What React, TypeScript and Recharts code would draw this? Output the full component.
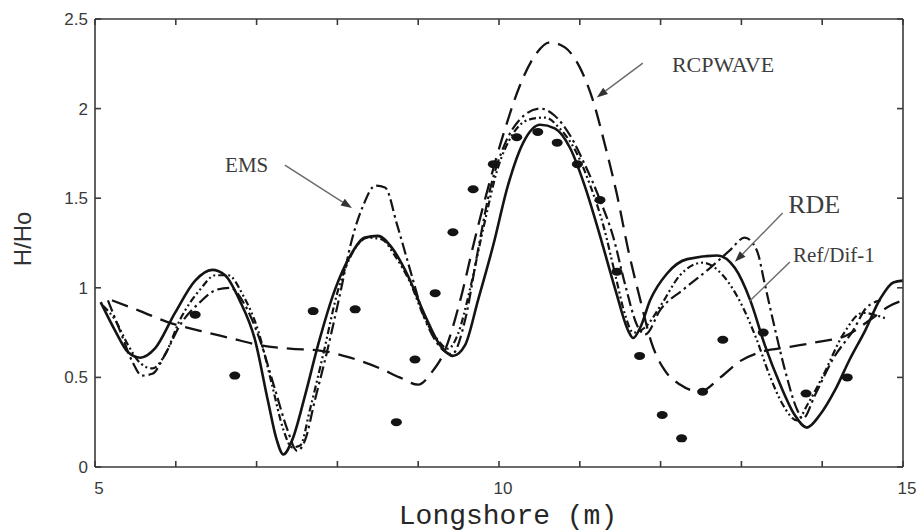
import React from 'react';
import {
  ComposedChart, Line, Scatter, XAxis, YAxis, ReferenceLine, ReferenceDot,
} from 'recharts';

// ---- data (x = longshore position in m, y = H/Ho) ----
const rdePoints: [number, number][] = [
  [5.07, 0.92], [5.25, 0.76], [5.41, 0.64], [5.56, 0.61], [5.74, 0.66], [5.99, 0.86],
  [6.24, 1.04], [6.45, 1.10], [6.61, 1.07], [6.79, 0.93], [6.98, 0.71], [7.14, 0.37],
  [7.25, 0.15], [7.33, 0.07], [7.44, 0.15], [7.60, 0.40], [7.76, 0.68], [7.97, 0.99],
  [8.16, 1.18], [8.34, 1.28], [8.50, 1.29], [8.68, 1.22], [8.87, 1.07], [9.08, 0.85],
  [9.27, 0.68], [9.43, 0.62], [9.58, 0.68], [9.74, 0.93], [9.93, 1.24], [10.11, 1.57],
  [10.30, 1.81], [10.51, 1.91], [10.69, 1.89], [10.88, 1.78], [11.06, 1.57], [11.25, 1.29],
  [11.44, 0.99], [11.60, 0.76], [11.66, 0.72], [11.75, 0.78], [11.87, 0.93], [12.08, 1.08],
  [12.33, 1.16], [12.70, 1.18], [12.92, 1.11], [13.11, 0.93], [13.29, 0.68], [13.48, 0.46],
  [13.66, 0.29], [13.81, 0.22], [13.97, 0.29], [14.16, 0.43], [14.34, 0.60], [14.53, 0.76],
  [14.72, 0.94], [14.88, 1.03], [15.0, 1.04],
];

const rcpwavePoints: [number, number][] = [
  [5.21, 0.93], [5.56, 0.87], [5.89, 0.81], [6.30, 0.76], [6.67, 0.72], [7.04, 0.68],
  [7.41, 0.66], [7.78, 0.65], [8.16, 0.61], [8.53, 0.55], [8.77, 0.50], [9.00, 0.46],
  [9.17, 0.53], [9.33, 0.65], [9.52, 0.93], [9.70, 1.27], [9.89, 1.60], [10.07, 1.88],
  [10.26, 2.13], [10.45, 2.30], [10.63, 2.37], [10.82, 2.34], [11.00, 2.23], [11.16, 2.05],
  [11.31, 1.80], [11.46, 1.52], [11.60, 1.21], [11.75, 0.93], [11.89, 0.69], [12.05, 0.54],
  [12.24, 0.46], [12.49, 0.42], [12.74, 0.50], [12.98, 0.59], [13.23, 0.64], [13.60, 0.67],
  [13.97, 0.70], [14.28, 0.73], [14.59, 0.82], [14.84, 0.90], [15.0, 0.93],
];

const emsPoints: [number, number][] = [
  [5.16, 0.93], [5.31, 0.76], [5.46, 0.59], [5.58, 0.51], [5.71, 0.52], [5.87, 0.63],
  [6.05, 0.79], [6.30, 0.92], [6.51, 0.99], [6.67, 1.00], [6.86, 0.90], [7.04, 0.71],
  [7.23, 0.43], [7.38, 0.21], [7.50, 0.09], [7.60, 0.15], [7.72, 0.37], [7.87, 0.64],
  [8.03, 0.96], [8.18, 1.27], [8.32, 1.46], [8.47, 1.57], [8.59, 1.56], [8.74, 1.35],
  [8.90, 1.10], [9.08, 0.83], [9.27, 0.67], [9.42, 0.63], [9.58, 0.82], [9.74, 1.21],
  [9.89, 1.55], [10.07, 1.80], [10.26, 1.94], [10.51, 2.00], [10.69, 1.96], [10.88, 1.85],
  [11.06, 1.69], [11.25, 1.49], [11.41, 1.29], [11.56, 1.02], [11.71, 0.79], [11.81, 0.74],
  [12.00, 0.88], [12.28, 0.99], [12.61, 1.11], [12.86, 1.21], [13.04, 1.28], [13.19, 1.21],
  [13.29, 1.02], [13.39, 0.82], [13.54, 0.54], [13.69, 0.32], [13.76, 0.27], [13.91, 0.40],
  [14.13, 0.60], [14.38, 0.76], [14.55, 0.89], [14.72, 0.93],
];

const refdifPoints: [number, number][] = [
  [5.10, 0.90], [5.25, 0.82], [5.41, 0.68], [5.56, 0.58], [5.71, 0.55], [5.87, 0.63],
  [6.05, 0.82], [6.30, 0.99], [6.49, 1.07], [6.65, 1.07], [6.83, 0.96], [7.02, 0.76],
  [7.19, 0.46], [7.33, 0.21], [7.44, 0.11], [7.54, 0.12], [7.66, 0.32], [7.82, 0.62],
  [8.01, 0.99], [8.18, 1.19], [8.38, 1.28], [8.55, 1.27], [8.71, 1.18], [8.90, 1.03],
  [9.08, 0.83], [9.24, 0.71], [9.37, 0.66], [9.49, 0.74], [9.64, 0.99], [9.80, 1.32],
  [9.98, 1.66], [10.16, 1.85], [10.38, 1.94], [10.57, 1.95], [10.75, 1.89], [10.94, 1.77],
  [11.13, 1.57], [11.29, 1.35], [11.44, 1.07], [11.56, 0.85], [11.66, 0.75], [11.81, 0.78],
  [12.00, 0.90], [12.24, 1.07], [12.52, 1.14], [12.77, 1.07], [13.02, 0.89], [13.19, 0.71],
  [13.35, 0.51], [13.51, 0.35], [13.69, 0.26], [13.82, 0.35], [14.01, 0.51], [14.26, 0.74],
  [14.50, 0.86], [14.78, 0.83],
];

const measuredPoints: [number, number][] = [
  [6.24, 0.85], [6.73, 0.51], [7.70, 0.87], [8.22, 0.88], [8.73, 0.25], [8.96, 0.60],
  [9.21, 0.97], [9.43, 1.31], [9.68, 1.55], [9.93, 1.69], [10.22, 1.84], [10.48, 1.87],
  [10.72, 1.81], [10.97, 1.69], [11.25, 1.49], [11.46, 1.09], [11.74, 0.62], [12.02, 0.29],
  [12.26, 0.16], [12.52, 0.42], [12.77, 0.71], [13.27, 0.75], [13.80, 0.41], [14.31, 0.50],
];

const xTicks = [5, 6, 7, 8, 9, 10, 11, 12, 13, 14, 15];
const xLabelled = [5, 10, 15];
const yTicks = [0, 0.5, 1, 1.5, 2, 2.5];

// annotation texts and arrow segments (data coordinates)
const annotations = [
  { text: 'RCPWAVE', x: 12.14, y: 2.205, size: 22 },
  { text: 'EMS', x: 6.61, y: 1.646, size: 21 },
  { text: 'RDE', x: 13.58, y: 1.415, size: 26 },
  { text: 'Ref/Dif-1', x: 13.64, y: 1.144, size: 21 },
];
const arrows = [
  { from: [11.78, 2.254], to: [11.21, 2.062], head: true },
  { from: [7.35, 1.685], to: [8.18, 1.445], head: true },
  { from: [13.51, 1.417], to: [12.92, 1.145], head: true },
  { from: [13.60, 1.144], to: [13.10, 0.925], head: false },
];

const toObj = (pts: [number, number][]) => pts.map(([x, y]) => ({ x, y }));

const INK = '#141414';
const AXIS = '#3a3a3a';

const ArrowShape = (head: boolean) => (props: any) => {
  const { x1, y1, x2, y2 } = props;
  const ang = Math.atan2(y2 - y1, x2 - x1);
  const L = 11;
  const W = 4;
  const bx = x2 - L * Math.cos(ang);
  const by = y2 - L * Math.sin(ang);
  const px = -Math.sin(ang) * W;
  const py = Math.cos(ang) * W;
  return (
    <g>
      <line x1={x1} y1={y1} x2={head ? bx : x2} y2={head ? by : y2} stroke="#6a6a6a" strokeWidth={1.4} />
      {head && (
        <polygon
          points={`${x2},${y2} ${bx + px},${by + py} ${bx - px},${by - py}`}
          fill="#333"
        />
      )}
    </g>
  );
};

const Dot = (props: any) => {
  const { cx, cy } = props;
  return <ellipse cx={cx} cy={cy} rx={5.5} ry={4} fill={INK} />;
};

const AnnotationText = (text: string, size: number) => (props: any) => (
  <text
    x={props.cx}
    y={props.cy}
    fontFamily="'Liberation Serif', 'DejaVu Serif', serif"
    fontSize={size}
    fill="#3c3c3c"
  >
    {text}
  </text>
);

const YAxisLabel = (props: any) => {
  const { viewBox } = props;
  const cx = viewBox.x + 22;
  const cy = viewBox.y + viewBox.height / 2 - 4;
  return (
    <text
      x={cx}
      y={cy}
      transform={`rotate(-90 ${cx} ${cy})`}
      textAnchor="middle"
      dominantBaseline="central"
      fontFamily="'Liberation Sans', Arial, sans-serif"
      fontSize={24}
      fill="#333"
    >
      H/Ho
    </text>
  );
};

const XAxisLabel = (props: any) => {
  const { viewBox } = props;
  const cx = viewBox.x + viewBox.width / 2 + 9;
  const y = viewBox.y + 57;
  return (
    <text
      x={cx}
      y={y}
      textAnchor="middle"
      fontFamily="'Liberation Mono', 'DejaVu Sans Mono', monospace"
      fontSize={28}
      fill="#262626"
    >
      Longshore (m)
    </text>
  );
};

const tickStyle = {
  fontFamily: "'Liberation Sans', Arial, sans-serif",
  fontSize: 17,
  fill: '#3a3a3a',
};

export default function App() {
  return (
    <div style={{ position: 'absolute', left: 0, top: 0, width: 916, height: 532, background: '#fff' }}>
      <ComposedChart width={916} height={532} margin={{ top: 0, right: 0, bottom: 0, left: 0 }}>
        <XAxis
          xAxisId="bottom"
          type="number"
          dataKey="x"
          domain={[5, 15]}
          ticks={xTicks}
          orientation="bottom"
          height={65}
          tickSize={-6}
          tickMargin={21}
          tick={{ ...tickStyle, dx: 4 }}
          tickFormatter={(v: number) => (xLabelled.includes(v) ? String(v) : '')}
          stroke={AXIS}
          strokeWidth={1.6}
          allowDataOverflow
          label={<XAxisLabel />}
        />
        <XAxis
          xAxisId="top"
          type="number"
          dataKey="x"
          domain={[5, 15]}
          ticks={xTicks}
          orientation="top"
          height={19}
          tickSize={-6}
          tickFormatter={() => ''}
          stroke={AXIS}
          strokeWidth={1.6}
          allowDataOverflow
        />
        <YAxis
          yAxisId="left"
          type="number"
          dataKey="y"
          domain={[0, 2.5]}
          ticks={yTicks}
          width={95}
          tickSize={-6}
          tickMargin={13}
          tick={tickStyle}
          stroke={AXIS}
          strokeWidth={1.6}
          allowDataOverflow
          label={<YAxisLabel />}
        />
        <YAxis
          yAxisId="right"
          type="number"
          dataKey="y"
          orientation="right"
          domain={[0, 2.5]}
          ticks={yTicks}
          width={13}
          tickSize={-6}
          tickFormatter={() => ''}
          stroke={AXIS}
          strokeWidth={1.6}
          allowDataOverflow
        />

        <Line
          xAxisId="bottom" yAxisId="left" data={toObj(rcpwavePoints)} dataKey="y"
          type="monotone" dot={false} stroke={INK} strokeWidth={2.3}
          strokeDasharray="17 9" isAnimationActive={false} name="RCPWAVE"
        />
        <Line
          xAxisId="bottom" yAxisId="left" data={toObj(emsPoints)} dataKey="y"
          type="monotone" dot={false} stroke={INK} strokeWidth={2.2}
          strokeDasharray="12 4 2.5 4" isAnimationActive={false} name="EMS"
        />
        <Line
          xAxisId="bottom" yAxisId="left" data={toObj(refdifPoints)} dataKey="y"
          type="monotone" dot={false} stroke={INK} strokeWidth={2.2}
          strokeDasharray="7 3 2 3 2 3" isAnimationActive={false} name="Ref/Dif-1"
        />
        <Line
          xAxisId="bottom" yAxisId="left" data={toObj(rdePoints)} dataKey="y"
          type="monotone" dot={false} stroke={INK} strokeWidth={2.6}
          isAnimationActive={false} name="RDE"
        />
        <Scatter
          xAxisId="bottom" yAxisId="left" data={toObj(measuredPoints)} dataKey="y"
          shape={<Dot />} isAnimationActive={false} name="Measured"
        />

        {arrows.map((a, i) => (
          <ReferenceLine
            key={`arr${i}`}
            xAxisId="bottom"
            yAxisId="left"
            segment={[{ x: a.from[0], y: a.from[1] }, { x: a.to[0], y: a.to[1] }]}
            shape={ArrowShape(a.head)}
            ifOverflow="visible"
          />
        ))}
        {annotations.map((a, i) => (
          <ReferenceDot
            key={`ann${i}`}
            xAxisId="bottom"
            yAxisId="left"
            x={a.x}
            y={a.y}
            r={0}
            ifOverflow="visible"
            shape={AnnotationText(a.text, a.size)}
          />
        ))}
      </ComposedChart>
    </div>
  );
}
